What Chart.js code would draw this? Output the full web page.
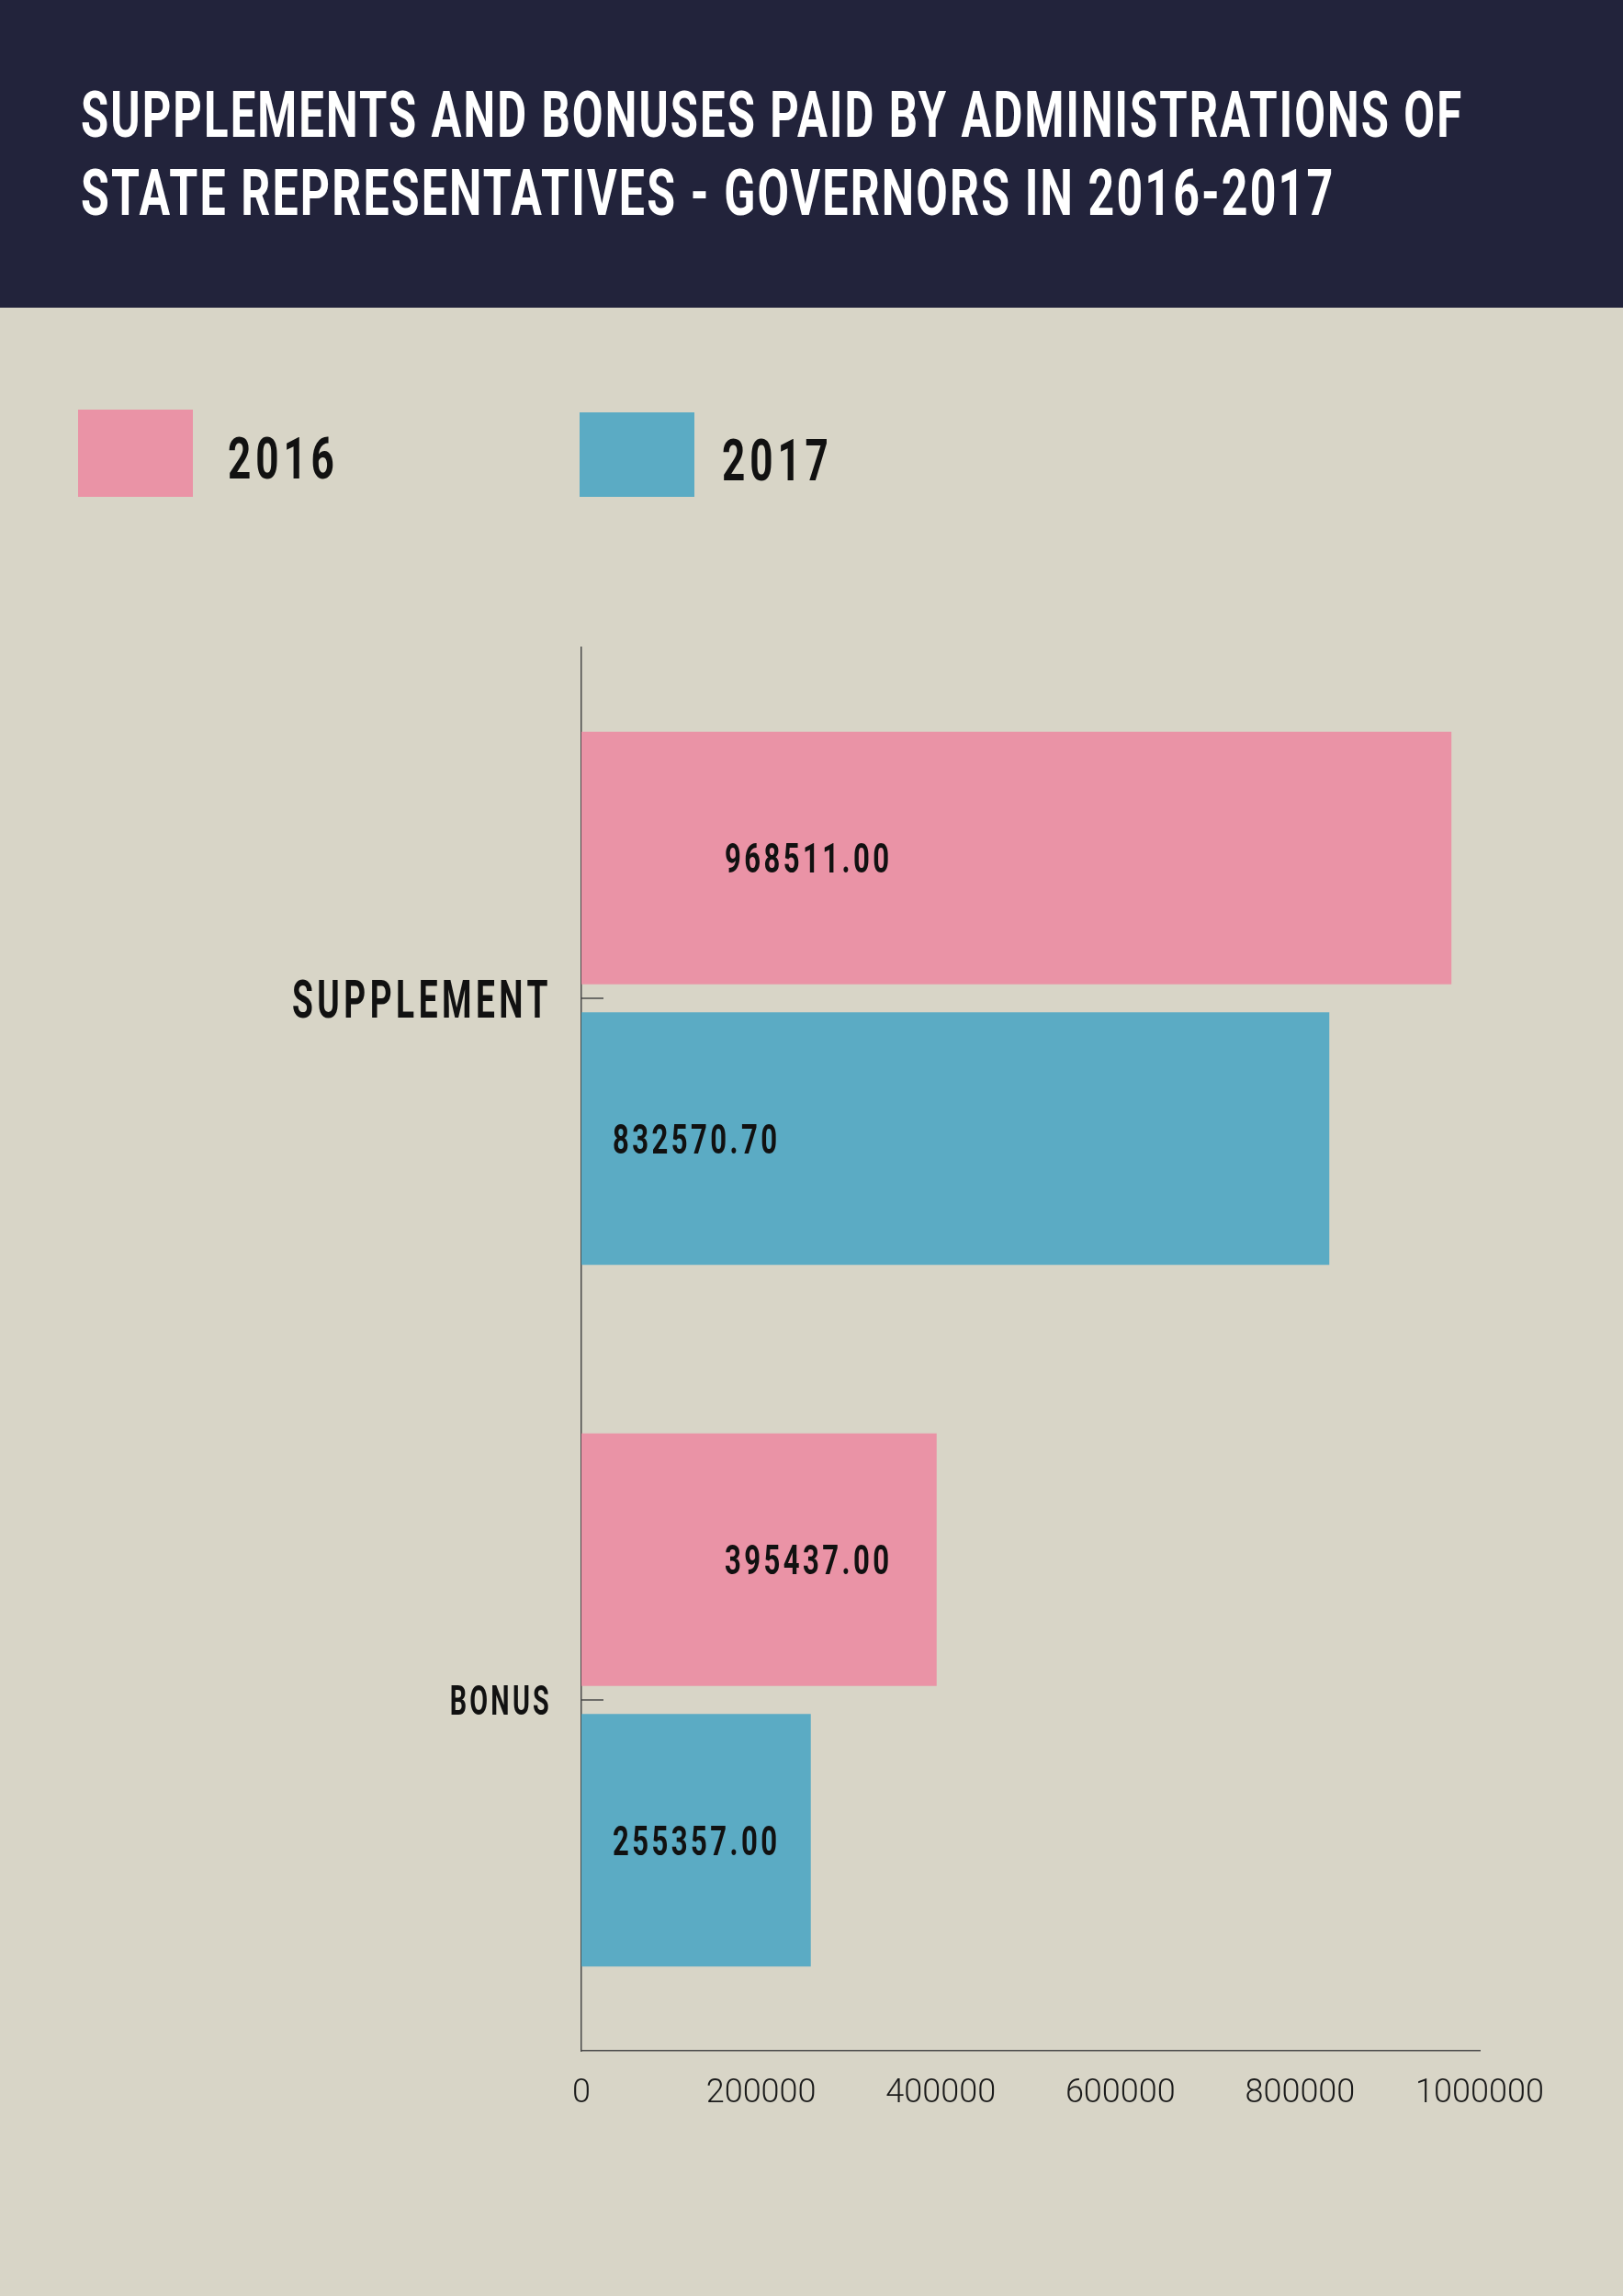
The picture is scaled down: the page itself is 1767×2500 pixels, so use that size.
<!DOCTYPE html>
<html>
<head>
<meta charset="utf-8">
<script src="https://cdn.jsdelivr.net/npm/chart.js@4.4.1/dist/chart.umd.min.js"></script>
<style>
  html, body { margin: 0; padding: 0; background: #D8D5C7; }
  #page { position: relative; width: 1767px; height: 2500px; overflow: hidden; background: #D8D5C7; }
  #header { position: absolute; left: 0; top: 0; width: 1767px; height: 335px; background: #22233B; z-index: 2; }
  .squeeze { position: absolute; white-space: nowrap; font-family: Roboto, "Liberation Sans", sans-serif; font-weight: 700; line-height: 1; transform-origin: 0 0; }
  .title { color: #ffffff; font-size: 70px; letter-spacing: 3px; transform: scaleX(0.70); left: 88px; }
  .title.second { transform: scaleX(0.715); }
  .legend-box { position: absolute; width: 125px; }
  .legend-text { color: #111111; font-size: 63px; letter-spacing: 7px; transform: scaleX(0.70); }
  #chart { position: absolute; left: 0; top: 0; z-index: 1; }
</style>
</head>
<body>
<div id="page">
  <div id="header">
    <div class="squeeze title" style="top:90px">SUPPLEMENTS AND BONUSES PAID BY ADMINISTRATIONS OF</div>
    <div class="squeeze title second" style="top:175px">STATE REPRESENTATIVES - GOVERNORS IN 2016-2017</div>
  </div>
  <div id="legend"></div>
  <canvas id="chart" width="1767" height="2500"></canvas>
</div>
<script>
// Data
const categories = ['SUPPLEMENT', 'BONUS'];
const years = ['2016', '2017'];
const values2016 = [968511.00, 395437.00];
const values2017 = [832570.70, 255357.00];
const xTicks = [0, 200000, 400000, 600000, 800000, 1000000];
const yearColors = ['#EA93A6', '#5BABC4'];

// Legend (html, placed under the header)
const legend = document.querySelector('#legend');
const legendSpots = [
  { box: [85, 446, 95], text: [248, 468] },
  { box: [631, 449, 92], text: [786, 470] }
];
years.forEach(function (year, i) {
  const spot = legendSpots[i];
  const box = document.createElement('div');
  box.className = 'legend-box';
  box.style.left = spot.box[0] + 'px';
  box.style.top = spot.box[1] + 'px';
  box.style.height = spot.box[2] + 'px';
  box.style.background = yearColors[i];
  legend.appendChild(box);

  const label = document.createElement('div');
  label.className = 'squeeze legend-text';
  label.style.left = spot.text[0] + 'px';
  label.style.top = spot.text[1] + 'px';
  label.textContent = year;
  legend.appendChild(label);
});

// condensed bold text on canvas, y is the middle of the capitals
const drawSqueezed = (ctx, text, x, y, size, squeeze, align) => {
  ctx.save();
  ctx.translate(x, y + size * 0.355);
  ctx.scale(squeeze, 1);
  ctx.font = 'bold ' + size + 'px Roboto, "Liberation Sans", sans-serif';
  ctx.letterSpacing = Math.round(size * 0.12) + 'px';
  ctx.textAlign = align;
  ctx.textBaseline = 'alphabetic';
  ctx.fillStyle = '#111111';
  ctx.fillText(text, 0, 0);
  ctx.restore();
};

const categorySizes = [58, 45];
const valueLabelOffsets = [156, 34];

const extrasPlugin = {
  id: 'extras',
  afterDraw(chart) {
    const ctx = chart.ctx;
    const yScale = chart.scales.y;
    const area = chart.chartArea;

    // small tick marks inside the axis + category labels
    yScale.ticks.forEach(function (tick, i) {
      const y = yScale.getPixelForTick(i);
      ctx.save();
      ctx.strokeStyle = '#4a4a4a';
      ctx.lineWidth = 1.5;
      ctx.beginPath();
      ctx.moveTo(area.left, y);
      ctx.lineTo(area.left + 24, y);
      ctx.stroke();
      ctx.restore();
      drawSqueezed(ctx, categories[i], area.left - 32, y, categorySizes[i], 0.64, 'right');
    });

    // value labels inside the bars
    chart.data.datasets.forEach(function (dataset, d) {
      const meta = chart.getDatasetMeta(d);
      meta.data.forEach(function (bar, i) {
        const text = dataset.data[i].toFixed(2);
        drawSqueezed(ctx, text, area.left + valueLabelOffsets[d], bar.y, 45, 0.69, 'left');
      });
    });
  }
};

const chartCanvas = document.querySelector('#chart').getContext('2d');
const paymentsChart = new Chart(chartCanvas, {
  type: 'bar',
  data: {
    labels: categories,
    datasets: [
      { label: years[0], data: values2016, backgroundColor: yearColors[0], borderWidth: 0 },
      { label: years[1], data: values2017, backgroundColor: yearColors[1], borderWidth: 0 }
    ]
  },
  options: {
    indexAxis: 'y',
    responsive: false,
    animation: false,
    devicePixelRatio: 1,
    layout: {
      padding: { top: 705, right: 156, left: 0, bottom: 0 }
    },
    plugins: {
      legend: { display: false },
      tooltip: { enabled: false },
      title: { display: false }
    },
    scales: {
      x: {
        min: 0,
        max: 1000000,
        grid: { display: false, drawTicks: false },
        border: { display: true, color: '#4a4a4a', width: 1.5 },
        afterBuildTicks: (scale) => { scale.ticks = xTicks.map((v) => ({ value: v })); },
        afterFit: (scale) => { scale.height = 267; },
        ticks: {
          padding: 25,
          color: '#1a1a1a',
          maxRotation: 0,
          autoSkip: false,
          font: { family: 'Roboto, "Liberation Sans", sans-serif', size: 36, weight: 300 },
          callback: (value) => String(value)
        }
      },
      y: {
        grid: { display: false, drawTicks: false },
        border: { display: true, color: '#4a4a4a', width: 1.5 },
        afterFit: (scale) => { scale.width = 633; },
        ticks: { display: false }
      }
    }
  },
  plugins: [extrasPlugin]
});
</script>
</body>
</html>
